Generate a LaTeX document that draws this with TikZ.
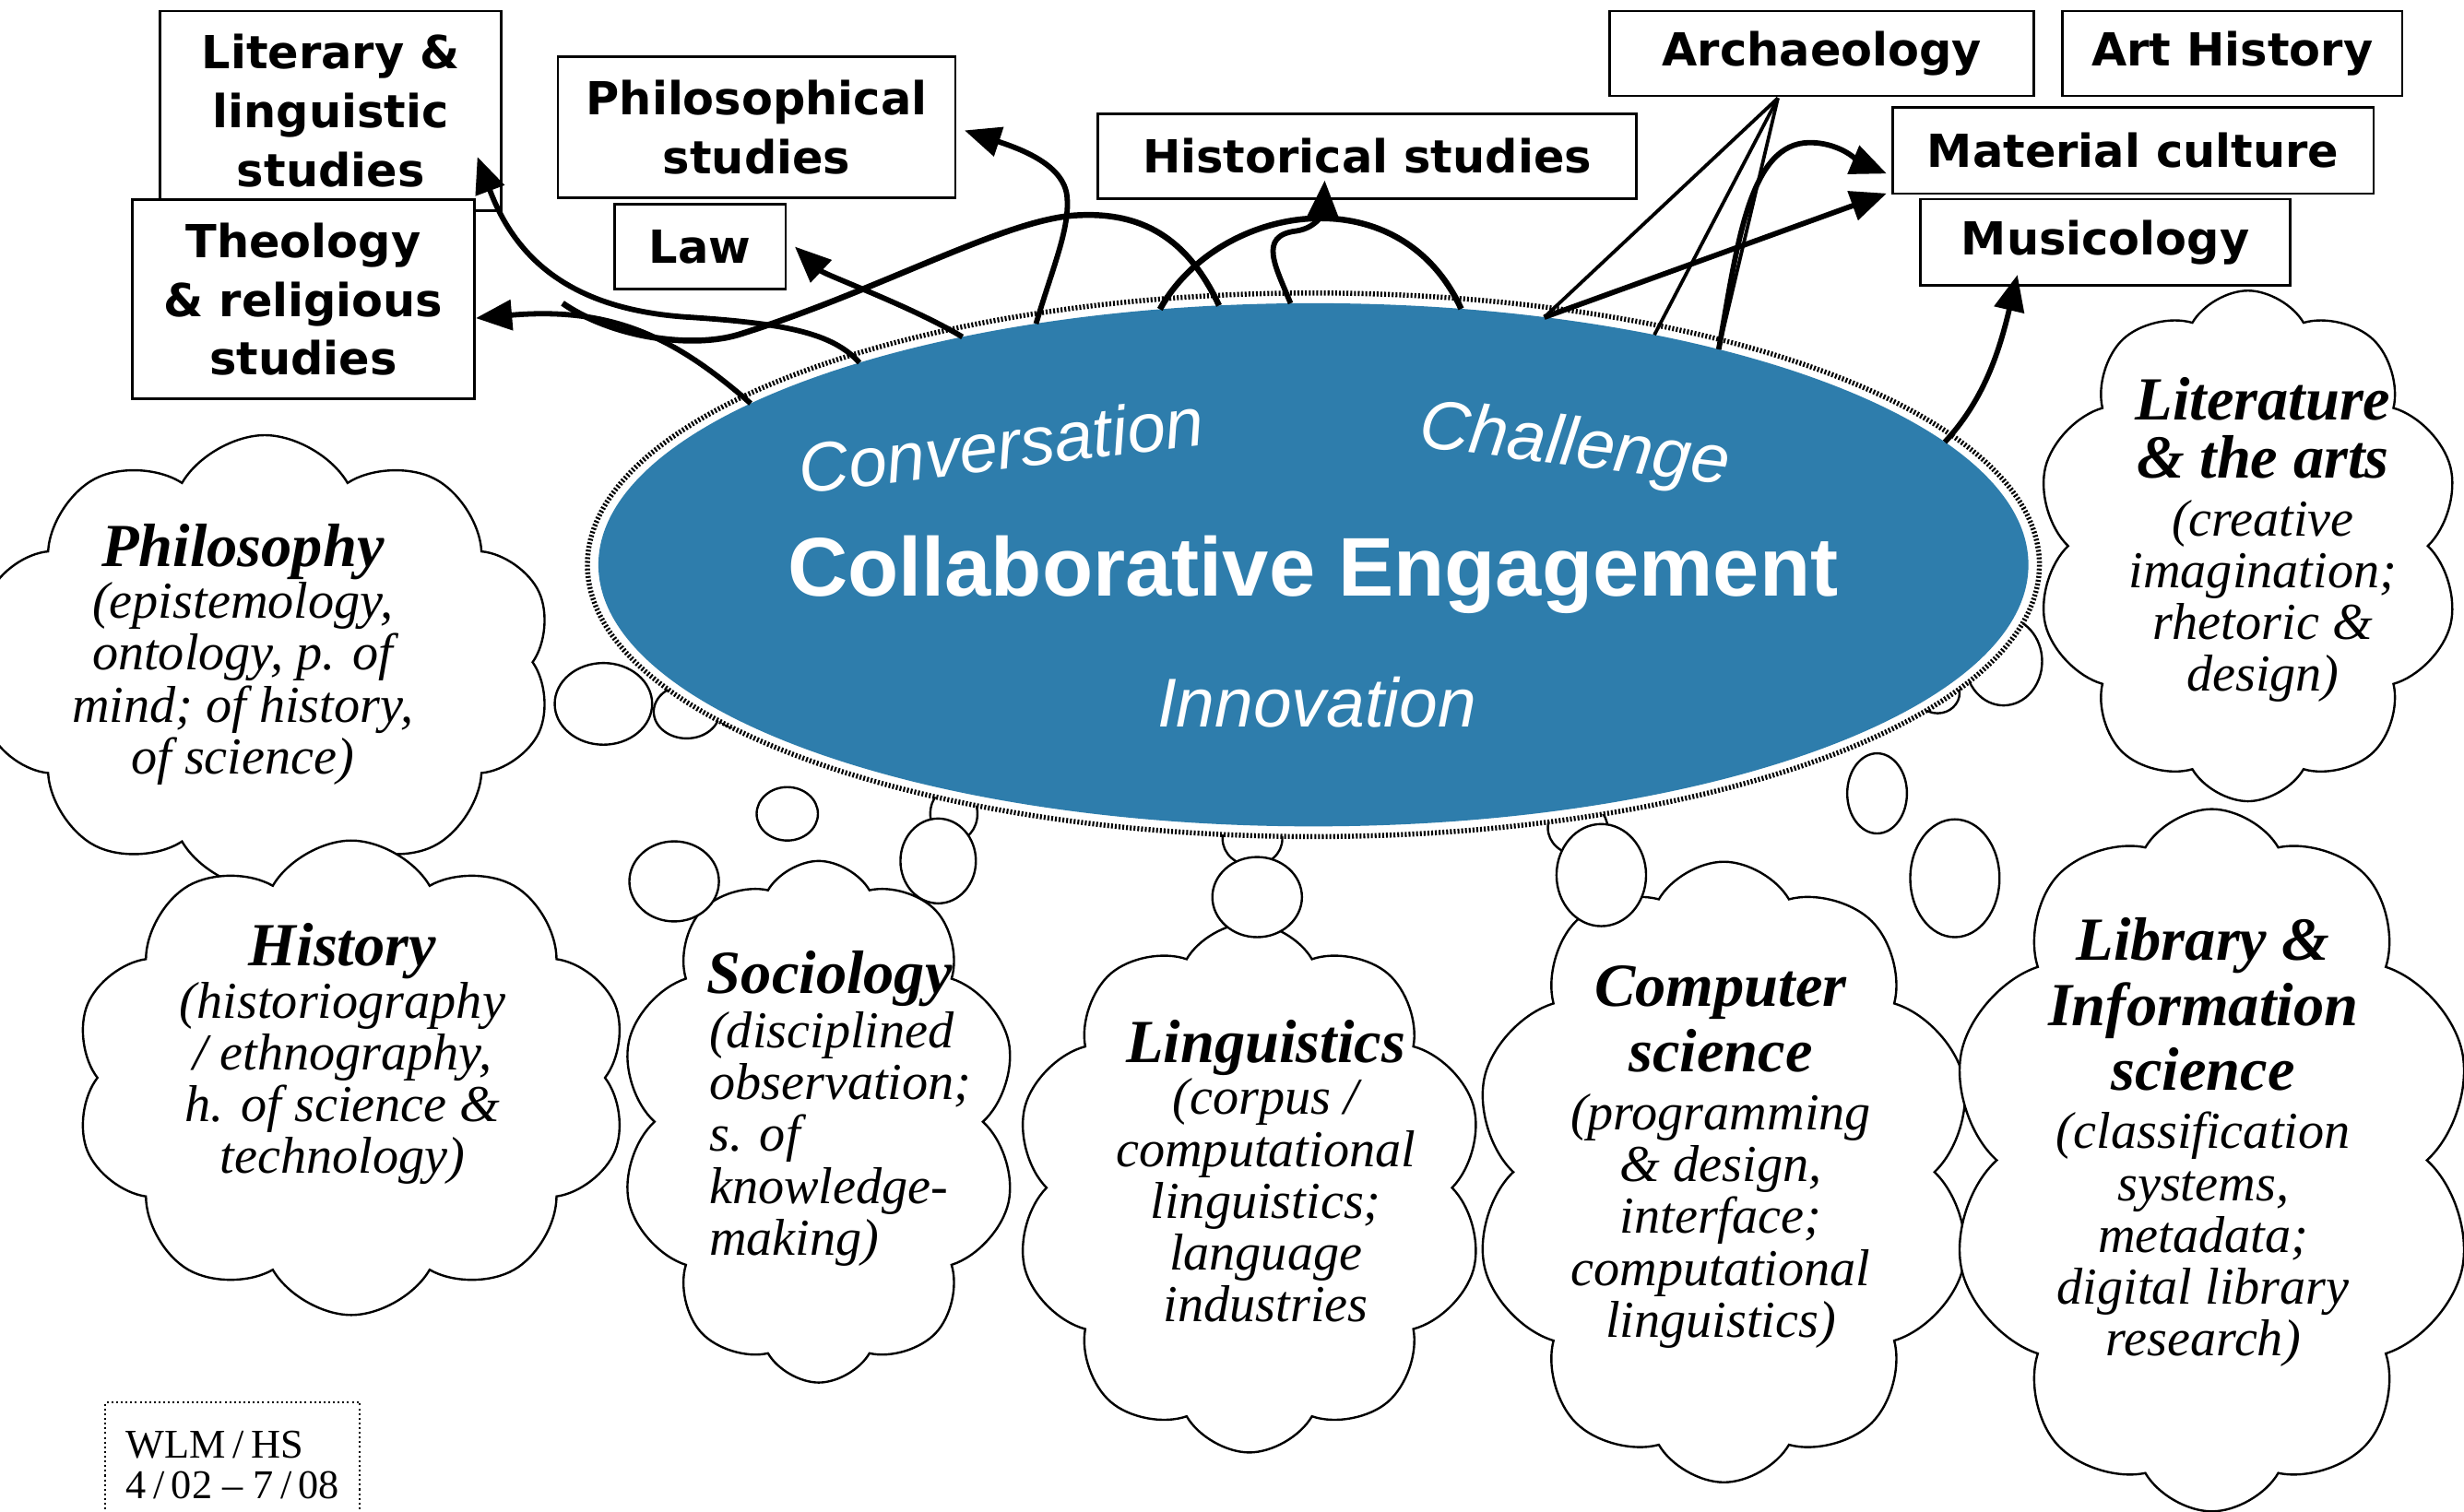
\documentclass[tikz,border=0pt]{standalone}
\usepackage{fontspec}
\setmainfont{Liberation Serif}
\newfontfamily\boxfont{DejaVu Sans}
\newfontfamily\ovalfont{Liberation Sans}
\usetikzlibrary{shapes.geometric,shapes.symbols,arrows.meta,calc}

\definecolor{ovalblue}{RGB}{46,125,172}
\newcommand{\fieldtitle}[1]{{\bfseries\fontsize{19.5}{19.5}\selectfont #1}}

\tikzset{every picture/.style={line width=0.75pt}}
\tikzset{
	fieldbox/.style={draw, fill=white, line width=0.8pt, inner sep=0pt, align=center,
		font=\boxfont\bfseries\fontsize{14.5}{18.75}\selectfont},
	puffcloud/.style={cloud, cloud puffs=10, cloud puff arc=120, draw, fill=white,
		line width=0.7pt, inner sep=0pt},
	bubble/.style={draw, fill=white, line width=0.7pt},
	fieldtext/.style={align=center, font=\itshape\fontsize{16.5}{16.5}\selectfont},
	oval/.style={ellipse, fill=ovalblue, minimum width=455pt, minimum height=166.5pt,
		inner sep=0pt, outer sep=0pt},
	ovalring/.style={draw, fill=white, line width=1.6pt, dash pattern=on 0.6pt off 0.6pt},
	ovaltext/.style={text=white, font=\ovalfont\itshape\fontsize{22}{22}\selectfont},
	linkarrow/.style={line width=1.7pt, -{Triangle[length=11.5pt,width=9.5pt]}},
	tiecurve/.style={line width=1.9pt},
	thinline/.style={line width=1.1pt},
	signbox/.style={draw, line width=0.6pt, dash pattern=on 0.6pt off 0.9pt, align=left,
		font=\fontsize{13}{13}\selectfont}
}

\begin{document}
\begin{tikzpicture}[x=0.5pt,y=0.5pt,yscale=-1,xscale=1]
	\useasboundingbox (0,0) rectangle (1568,962);
	\clip (0,0) rectangle (1568,962);

	%Shape: Clouds
	\node[puffcloud, minimum width=183.5pt, minimum height=144.5pt] (philc) at (168.5,421.5) {};
	\node[puffcloud, minimum width=176.5pt, minimum height=151pt] (histc) at (223.5,686) {};
	\node[puffcloud, minimum width=127pt, minimum height=166pt] (socc) at (521,714) {};
	\node[puffcloud, minimum width=150pt, minimum height=168.5pt] (lingc) at (795,756) {};
	\node[puffcloud, minimum width=160pt, minimum height=197.5pt] (csc) at (1097,746) {};
	\node[puffcloud, minimum width=135.5pt, minimum height=162.5pt] (litc) at (1430.5,347.5) {};
	\node[puffcloud, minimum width=167.5pt, minimum height=223.5pt] (libc) at (1407.5,738.5) {};

	%Shape: Bubbles
	\draw[bubble] (384,448) ellipse [x radius=31, y radius=26];
	\draw[bubble] (437,453) ellipse [x radius=21, y radius=17];
	\draw[bubble] (467,454) ellipse [x radius=10, y radius=9];
	\draw[bubble] (501,518) ellipse [x radius=19.5, y radius=17];
	\draw[bubble] (429,561) ellipse [x radius=28.5, y radius=25.5];
	\draw[bubble] (607,518) ellipse [x radius=15, y radius=17.5];
	\draw[bubble] (597,548) ellipse [x radius=24, y radius=27];
	\draw[bubble] (797,534) ellipse [x radius=19, y radius=17];
	\draw[bubble] (800,571) ellipse [x radius=28.5, y radius=25.5];
	\draw[bubble] (1004,527) ellipse [x radius=19, y radius=17];
	\draw[bubble] (1019,557) ellipse [x radius=28.5, y radius=32.5];
	\draw[bubble] (1194.5,505) ellipse [x radius=19, y radius=25.5];
	\draw[bubble] (1244,559) ellipse [x radius=28.4, y radius=37.5];
	\draw[bubble] (1233,441) ellipse [x radius=14, y radius=13];
	\draw[bubble] (1275,421) ellipse [x radius=24.5, y radius=28];

	%Shape: Ellipse
	\draw[ovalring] (835.8,359.5) ellipse [x radius=462, y radius=173];
	\node[oval] (ce) at (835.8,359.5) {};

	% Text Node
	\node[text=white, font=\ovalfont\bfseries\fontsize{26.5}{26.5}\selectfont] (collab) at (835.5,366) {Collaborative Engagement};
	\node[ovaltext, rotate=7] (conv) at (637,283) {Conversation};
	\node[ovaltext, rotate=-7] (chal) at (1002,285) {Challenge};
	\node[ovaltext] (innov) at (838,447) {Innovation};

	%Shape: Rectangle
	\node[fieldbox, minimum width=108.5pt, minimum height=63.5pt] (lit) at (210.5,70.5) {Literary \&\\linguistic\\studies};
	\node[fieldbox, minimum width=109pt, minimum height=63.5pt] (theo) at (193,190.5) {Theology\\\& religious\\studies};
	\node[fieldbox, minimum width=126.5pt, minimum height=45pt] (phil) at (481.5,81) {Philosophical\\studies};
	\node[fieldbox, minimum width=54.5pt, minimum height=27pt] (law) at (445.5,157) {Law};
	\node[fieldbox, minimum width=171.5pt, minimum height=27pt] (hist) at (870,99.5) {Historical studies};
	\node[fieldbox, minimum width=135pt, minimum height=27pt] (arch) at (1159.4,34) {Archaeology};
	\node[fieldbox, minimum width=108pt, minimum height=27pt] (art) at (1420.6,34) {Art History};
	\node[fieldbox, minimum width=153pt, minimum height=27.4pt] (mat) at (1357.4,95.9) {Material culture};
	\node[fieldbox, minimum width=117.75pt, minimum height=27.4pt] (mus) at (1339.8,154.2) {Musicology};

	%Curve Lines
	\draw[linkarrow] (ce.156) .. controls (530,212) and (500,206) .. (440,202) .. controls (370,198) and (330,170) .. ($(lit.south east)+(-16,-35)$);
	\draw[linkarrow] (ce.164) .. controls (430,215) and (390,195) .. ($(theo.east)+(0,12)$);
	\draw[linkarrow] (ce.147) .. controls (580,195) and (525,175) .. ($(law.east)+(5,0)$);
	\draw[linkarrow] (ce.139) .. controls (670,170) and (681,145) .. (679,125) .. controls (677,105) and (650,95) .. ($(phil.east)+(5,2)$);
	\coordinate (loose) at (358,193);
	\draw[tiecurve] (ce.110) .. controls (755,150) and (725,135) .. (686,137) .. controls (640,139) and (560,185) .. (470,213) .. controls (440,222) and (390,215) .. (loose);
	\draw[tiecurve] (ce.121) .. controls (775,130) and (890,110) .. (ce.60);
	\draw[linkarrow] (ce.95) .. controls (812,170) and (800,150) .. (825,147) .. controls (838,145) and (842,135) .. ($(hist.south)+(-27,-12.5)$);
	\coordinate (archfoot) at ($(arch.south)+(-28,0.6)$);
	\draw[thinline] (archfoot) -- (ce.47);
	\draw[thinline] (archfoot) -- (ce.34);
	\draw[thinline] (archfoot) -- (ce.28);
	\draw[linkarrow] (ce.28) .. controls (1105,160) and (1112,95) .. (1148,91) .. controls (1170,89) and (1185,104) .. ($(mat.west)+(-3,14.6)$);
	\draw[linkarrow] (ce.47) -- ($(mat.south west)+(-3,-1)$);
	\draw[linkarrow] (ce.11) .. controls (1262,255) and (1272,225) .. ($(mus.south)+(-56,-7.5)$);

	% Text Node
	\node[fieldtext] (philt) at (154.5,416.5) {\fieldtitle{Philosophy}\\(epistemology,\\ontology, p. of\\mind; of history,\\of science)};
	\node[fieldtext] (histt) at (218,671) {\fieldtitle{History}\\(historiography\\/ ethnography,\\h. of science \&\\technology)};
	\node[fieldtext] (soct) at (528,623) {\fieldtitle{Sociology}};
	\node[fieldtext, align=left, anchor=west] (socb) at (444,725) {(disciplined\\observation;\\s. of\\knowledge-\\making)};
	\node[fieldtext] (lingt) at (805.5,745.5) {\fieldtitle{Linguistics}\\(corpus /\\computational\\linguistics;\\language\\industries};
	\node[fieldtext] (cst) at (1095,736.5) {\fieldtitle{Computer}\\[2pt]\fieldtitle{science}\\[2pt](programming\\\& design,\\interface;\\computational\\linguistics)};
	\node[fieldtext] (litt) at (1440,343.5) {\fieldtitle{Literature}\\[2pt]\fieldtitle{\& the arts}\\[2pt](creative\\imagination;\\rhetoric \&\\design)};
	\node[fieldtext] (libt) at (1402,727) {\fieldtitle{Library \&}\\[2pt]\fieldtitle{Information}\\[2pt]\fieldtitle{science}\\[2pt](classification\\systems,\\metadata;\\digital library\\research)};

	% Text Node
	\node[signbox, anchor=north west, minimum width=81pt, minimum height=40pt] (sign) at (66.5,892) {WLM\,/\,HS\\4\,/\,02 -- 7\,/\,08};

\end{tikzpicture}
\end{document}
